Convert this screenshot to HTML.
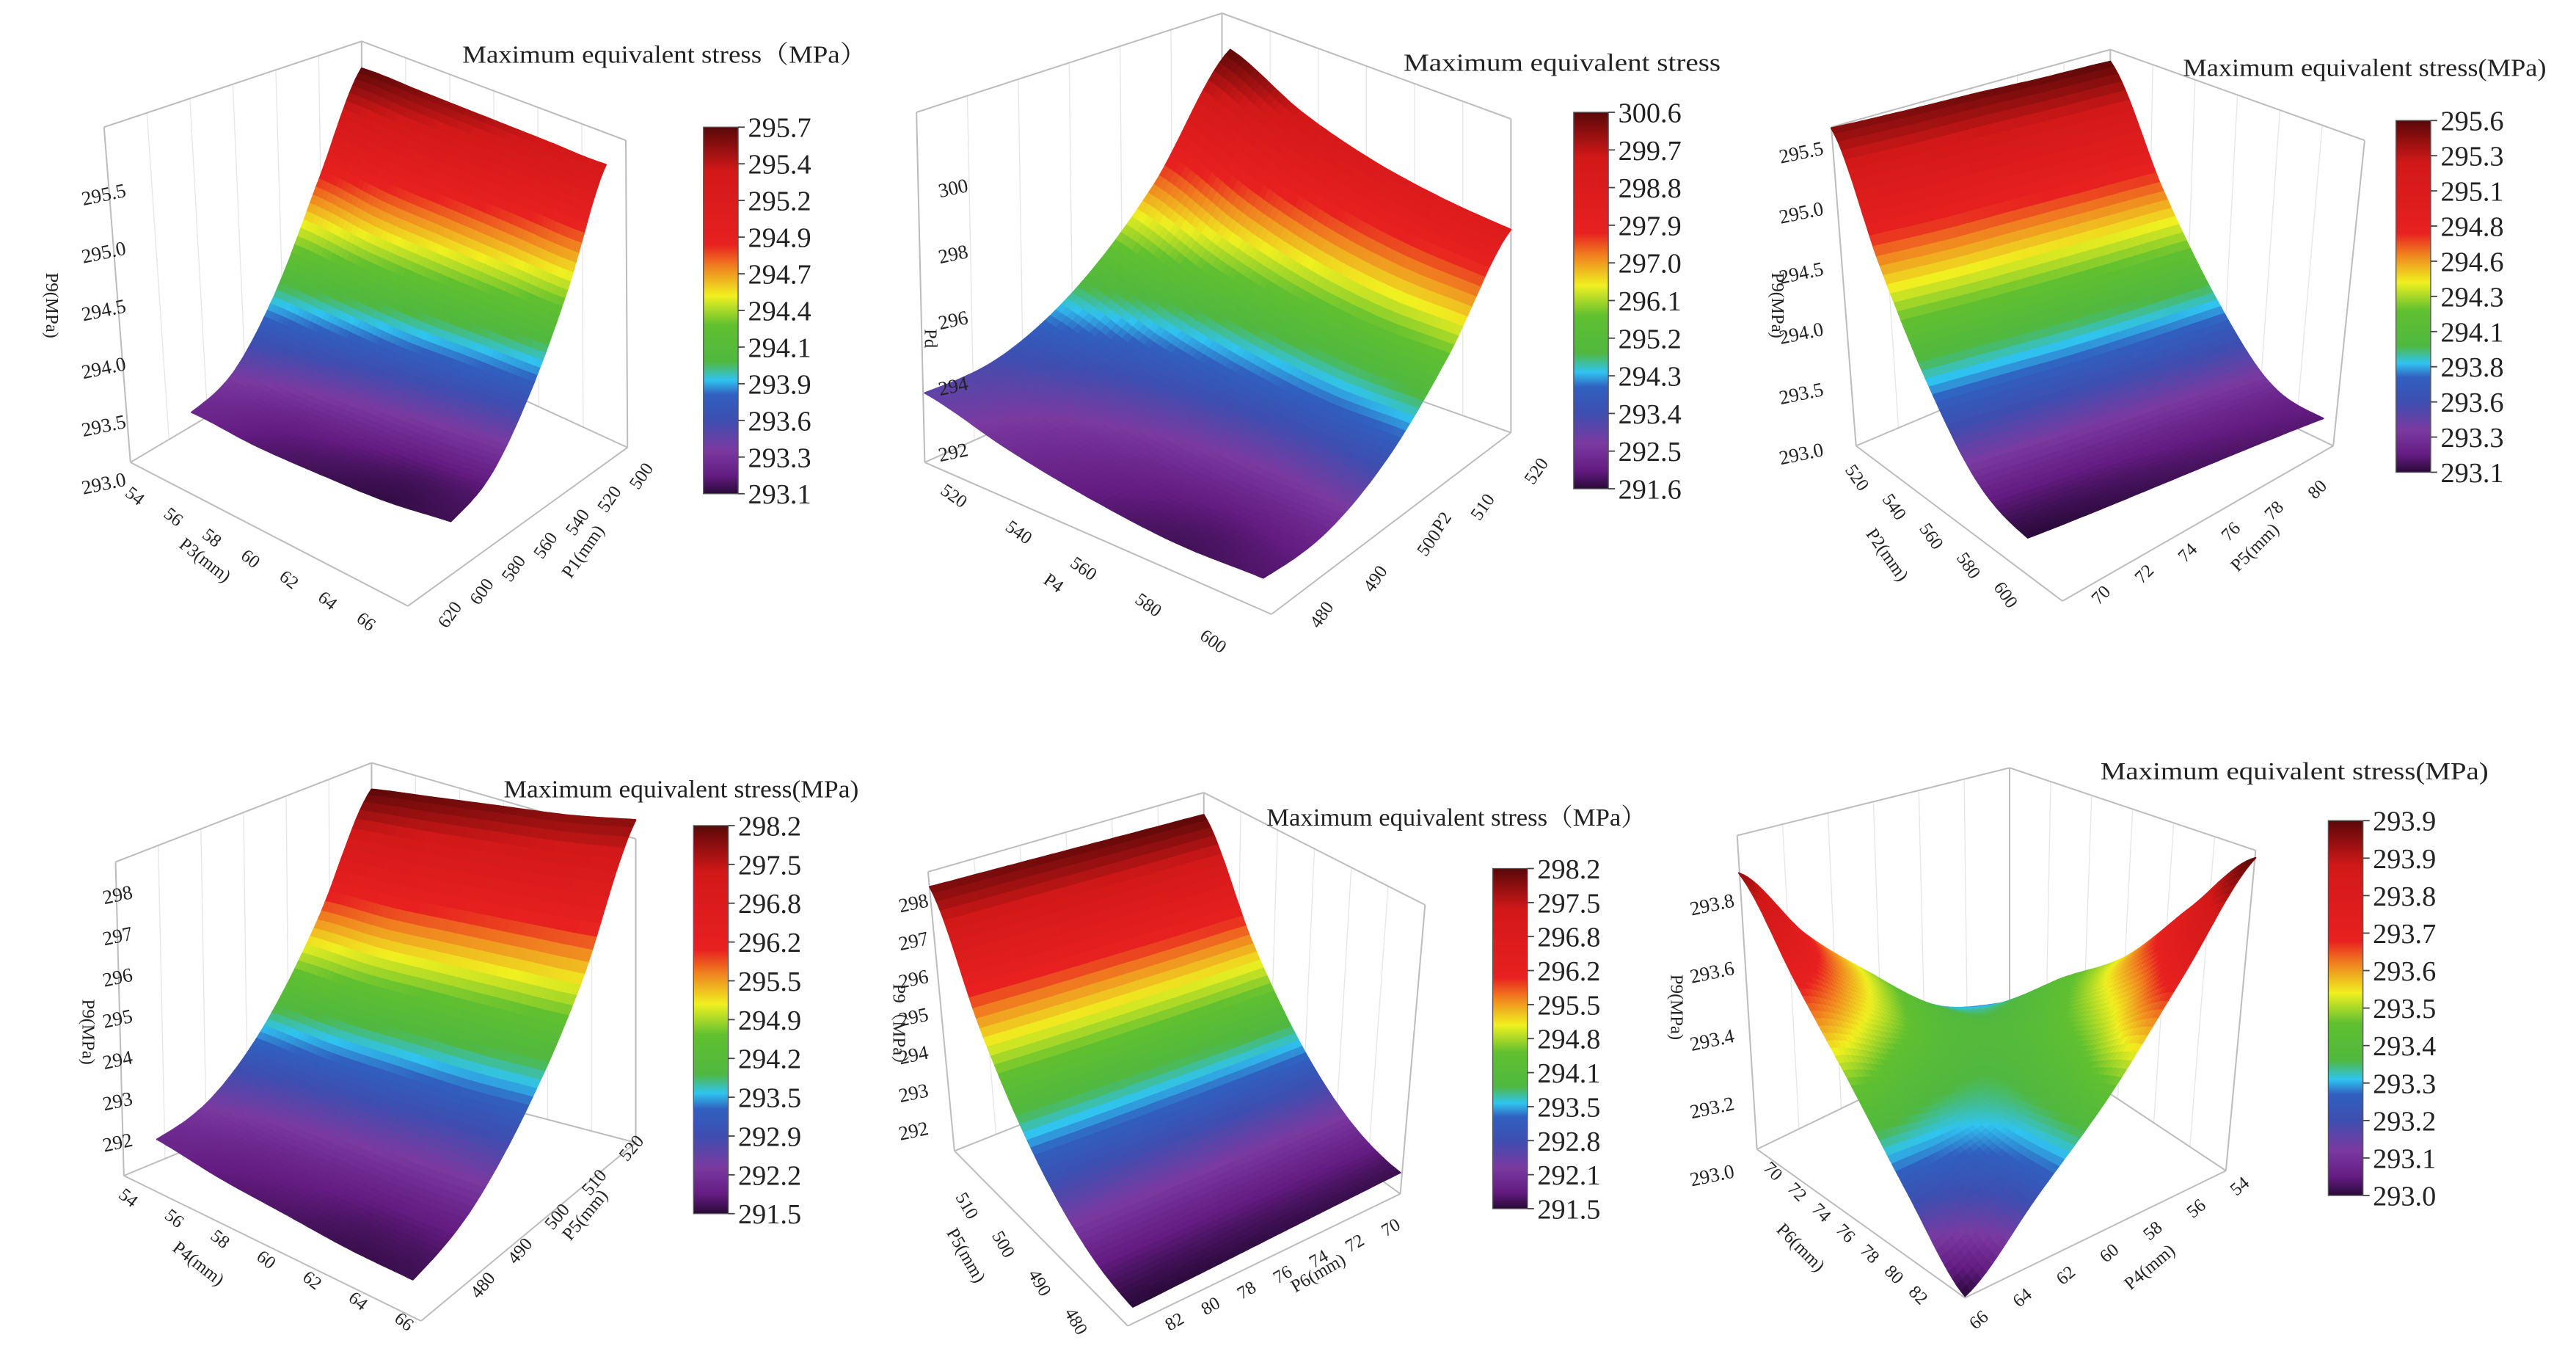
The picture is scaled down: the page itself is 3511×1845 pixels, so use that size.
<!DOCTYPE html>
<html><head><meta charset="utf-8"><style>
html,body{margin:0;padding:0;background:#fff;}
svg{display:block;}
text{font-family:"Liberation Serif","Noto Serif CJK SC",serif;fill:#222;}
</style></head><body>
<svg id="fig" width="3511" height="1845" viewBox="0 0 1560 820" preserveAspectRatio="none" xmlns="http://www.w3.org/2000/svg">
<defs id="defs"></defs>
</svg>
<script>
// ---------- DATA ----------
const p1ZGrid = [
  [293.30, 293.20, 293.15, 293.12, 293.15],
  [293.45, 293.35, 293.30, 293.25, 293.25],
  [294.00, 293.90, 293.80, 293.75, 293.70],
  [294.85, 294.70, 294.60, 294.50, 294.40],
  [295.70, 295.60, 295.50, 295.40, 295.30]
];
const p2ZGrid = [
  [293.0, 292.4, 292.0, 291.8, 291.9],
  [293.4, 292.8, 292.4, 292.2, 292.3],
  [294.8, 294.1, 293.7, 293.5, 293.6],
  [297.2, 296.4, 295.9, 295.7, 295.8],
  [300.6, 299.6, 299.0, 298.7, 298.6]
];
const p3ZGrid = [
  [293.10, 293.12, 293.15, 293.18, 293.20],
  [293.30, 293.30, 293.32, 293.34, 293.35],
  [293.85, 293.85, 293.85, 293.87, 293.90],
  [294.60, 294.60, 294.62, 294.64, 294.66],
  [295.50, 295.52, 295.55, 295.57, 295.60]
];
const p4ZGrid = [
  [292.0, 291.8, 291.7, 291.6, 291.6],
  [292.4, 292.2, 292.1, 292.0, 292.0],
  [293.6, 293.4, 293.3, 293.2, 293.2],
  [295.6, 295.4, 295.3, 295.2, 295.1],
  [298.2, 298.1, 298.0, 297.9, 297.9]
];
const p5ZGrid = [
  [291.50, 291.52, 291.55, 291.58, 291.60],
  [292.10, 292.10, 292.12, 292.15, 292.20],
  [293.40, 293.40, 293.42, 293.45, 293.50],
  [295.40, 295.40, 295.42, 295.45, 295.50],
  [298.00, 298.05, 298.10, 298.15, 298.20]
];
const p6ZGrid = [
  [293.00, 293.20, 293.40, 293.65, 293.90],
  [293.20, 293.25, 293.35, 293.50, 293.70],
  [293.42, 293.35, 293.33, 293.40, 293.50],
  [293.63, 293.50, 293.38, 293.33, 293.38],
  [293.85, 293.62, 293.45, 293.30, 293.25]
];
const p1BarTicks = ["295.7","295.4","295.2","294.9","294.7","294.4","294.1","293.9","293.6","293.3","293.1"];
const p2BarTicks = ["300.6","299.7","298.8","297.9","297.0","296.1","295.2","294.3","293.4","292.5","291.6"];
const p3BarTicks = ["295.6","295.3","295.1","294.8","294.6","294.3","294.1","293.8","293.6","293.3","293.1"];
const p4BarTicks = ["298.2","297.5","296.8","296.2","295.5","294.9","294.2","293.5","292.9","292.2","291.5"];
const p5BarTicks = ["298.2","297.5","296.8","296.2","295.5","294.8","294.1","293.5","292.8","292.1","291.5"];
const p6BarTicks = ["293.9","293.9","293.8","293.7","293.6","293.5","293.4","293.3","293.2","293.1","293.0"];
const p1ZTicks = [293.0, 293.5, 294.0, 294.5, 295.0, 295.5];
const p2ZTicks = [292, 294, 296, 298, 300];
const p3ZTicks = [293.0, 293.5, 294.0, 294.5, 295.0, 295.5];
const p4ZTicks = [292, 293, 294, 295, 296, 297, 298];
const p5ZTicks = [292, 293, 294, 295, 296, 297, 298];
const p6ZTicks = [293.0, 293.2, 293.4, 293.6, 293.8];
const p1UTicks = ["54","56","58","60","62","64","66"];
const p1VTicks = ["500","520","540","560","580","600","620"];
const p2UTicks = ["520","540","560","580","600"];
const p2VTicks = ["480","490","500","510","520"];
const p3UTicks = ["520","540","560","580","600"];
const p3VTicks = ["70","72","74","76","78","80"];
const p4UTicks = ["54","56","58","60","62","64","66"];
const p4VTicks = ["480","490","500","510","520"];
const p5UTicks = ["480","490","500","510"];
const p5VTicks = ["82","80","78","76","74","72","70"];
const p6UTicks = ["70","72","74","76","78","80","82"];
const p6VTicks = ["66","64","62","60","58","56","54"];

// ---------- LAYOUT ----------
const NS = "http://www.w3.org/2000/svg";
const FONT = '"Liberation Serif","Noto Serif CJK SC",serif';
const svg = document.getElementById('fig');
const defs = document.getElementById('defs');
const cmapStops = [
  [0.00,[42,10,58]],[0.05,[100,28,130]],[0.12,[122,58,160]],[0.20,[62,78,176]],
  [0.27,[48,96,192]],[0.31,[48,196,240]],[0.36,[80,184,64]],[0.46,[96,192,48]],
  [0.54,[240,240,32]],[0.62,[240,128,32]],[0.68,[232,32,32]],[0.88,[210,24,24]],[1.00,[90,8,8]]
];
function cmap(t){
  t=Math.max(0,Math.min(1,t));
  for(let i=1;i<cmapStops.length;i++){
    if(t<=cmapStops[i][0]){
      const a=cmapStops[i-1],b=cmapStops[i],f=(t-a[0])/(b[0]-a[0]);
      const c=a[1].map((x,j)=>Math.round(x+(b[1][j]-x)*f));
      return 'rgb('+c.join(',')+')';
    }
  }
  return 'rgb(90,8,8)';
}
function interp1(arr,t){
  const n=arr.length;const x=t*(n-1);let i=Math.floor(x);if(i>=n-1)i=n-2;if(i<0)i=0;
  const f=x-i;const p0=arr[Math.max(i-1,0)],p1=arr[i],p2=arr[i+1],p3=arr[Math.min(i+2,n-1)];
  return 0.5*((2*p1)+(-p0+p2)*f+(2*p0-5*p1+4*p2-p3)*f*f+(-p0+3*p1-3*p2+p3)*f*f*f);
}
function sample(grid,u,v){ return interp1(grid.map(r=>interp1(r,u)),v); }
function el(tag,attrs,parent){const e=document.createElementNS(NS,tag);for(const k in attrs)e.setAttribute(k,attrs[k]);if(tag==='text')e.setAttribute('font-family',FONT);(parent||svg).appendChild(e);return e;}

const panels=[
 {id:1,grid:p1ZGrid,bar:p1BarTicks,zt:p1ZTicks,ut:p1UTicks,vt:p1VTicks,cmin:293.1,cmax:295.7,
  A:[116,268],B:[273,325],C:[219,206],D:[367,240],k:61,zf:293.0,
  frame:{Lt:[63,77],Lb:[79,280],Bt:[219,25],Bb:[219,197],Rt:[379,85],Rb:[380,271],F:[247,367]},
  barX:426,barY0:77,barY1:299,title:"Maximum equivalent stress（MPa）",tx:280,ty:38,tw:245,
  zAx:{v0:293.0,y0:290,k:70,x:76},ztitle:{t:"P9(MPa)",x:28,y:185},
  uAx:{a:[82,300],b:[222,376],title:"P3(mm)",tp:[122,342],rot:38},vAx:{a:[388,288],b:[272,372],title:"P1(mm)",tp:[356,336],rot:-55}},
 {id:2,grid:p2ZGrid,bar:p2BarTicks,zt:p2ZTicks,ut:p2UTicks,vt:p2VTicks,cmin:291.6,cmax:300.6,
  A:[560,278],B:[765,368],C:[745,222],D:[915,291],k:20,zf:291.0,
  frame:{Lt:[555,68],Lb:[560,280],Bt:[740,8],Bb:[740,200],Rt:[915,72],Rb:[915,262],F:[770,372]},
  barX:953,barY0:68,barY1:296,title:"Maximum equivalent stress",tx:850,ty:43,tw:192,
  zAx:{v0:292,y0:272,k:20,x:586},ztitle:{t:"Pd",x:560,y:205},
  uAx:{a:[578,300],b:[735,388],title:"P4",tp:[636,356],rot:35},vAx:{a:[800,372],b:[930,285],title:"P2",tp:[876,318],rot:-55}},
 {id:3,grid:p3ZGrid,bar:p3BarTicks,zt:p3ZTicks,ut:p3UTicks,vt:p3VTicks,cmin:293.1,cmax:295.6,
  A:[1228,333],B:[1407,268],C:[1109,260],D:[1278,227],k:73,zf:293.0,
  frame:{Lt:[1109,77],Lb:[1124,270],Bt:[1278,30],Bb:[1278,205],Rt:[1432,85],Rb:[1413,270],F:[1249,364]},
  barX:1451,barY0:73,barY1:286,title:"Maximum equivalent stress(MPa)",tx:1322,ty:46,tw:220,
  zAx:{v0:293.0,y0:272,k:73,x:1104},ztitle:{t:"P9(MPa)",x:1073,y:185},
  uAx:{a:[1125,289],b:[1215,360],title:"P2(mm)",tp:[1140,338],rot:55},vAx:{a:[1272,360],b:[1403,296],title:"P5(mm)",tp:[1368,334],rot:-45}},
 {id:4,grid:p4ZGrid,bar:p4BarTicks,zt:p4ZTicks,ut:p4UTicks,vt:p4VTicks,cmin:291.5,cmax:298.2,
  A:[95,715],B:[250,790],C:[225,658],D:[385,669],k:25,zf:291.0,
  frame:{Lt:[70,522],Lb:[75,712],Bt:[225,462],Bb:[225,650],Rt:[385,508],Rb:[385,692],F:[255,800]},
  barX:420,barY0:500,barY1:735,title:"Maximum equivalent stress(MPa)",tx:305,ty:483,tw:215,
  zAx:{v0:292,y0:690,k:25,x:80},ztitle:{t:"P9(MPa)",x:50,y:625},
  uAx:{a:[78,725],b:[245,800],title:"P4(mm)",tp:[118,768],rot:38},vAx:{a:[292,778],b:[382,695],title:"P5(mm)",tp:[357,738],rot:-50}},
 {id:5,grid:p5ZGrid,bar:p5BarTicks,zt:p5ZTicks,ut:p5UTicks,vt:p5VTicks,cmin:291.5,cmax:298.2,
  A:[686,803],B:[848,724],C:[563,698],D:[729,659],k:23,zf:291.0,
  frame:{Lt:[562,528],Lb:[578,697],Bt:[729,480],Bb:[729,637],Rt:[863,548],Rb:[848,723],F:[683,803]},
  barX:904,barY0:526,barY1:732,title:"Maximum equivalent stress（MPa）",tx:767,ty:500,tw:230,
  zAx:{v0:292,y0:683,k:23,x:562},ztitle:{t:"P9（MPa）",x:541,y:623},
  uAx:{a:[652,800],b:[586,730],title:"P5(mm)",tp:[582,762],rot:60},vAx:{a:[711,800],b:[842,743],title:"P6(mm)",tp:[800,774],rot:-30}},
 {id:6,grid:p6ZGrid,bar:p6BarTicks,zt:p6ZTicks,ut:p6UTicks,vt:p6VTicks,cmin:293.0,cmax:293.9,
  A:[1190,785],B:[1366,704],C:[1053,703],D:[1210,659],k:205,zf:293.0,
  frame:{Lt:[1052,506],Lb:[1064,696],Bt:[1217,465],Bb:[1217,622],Rt:[1366,515],Rb:[1348,709],F:[1190,786]},
  barX:1410,barY0:497,barY1:724,title:"Maximum equivalent stress(MPa)",tx:1272,ty:472,tw:235,
  zAx:{v0:293.0,y0:709,k:205,x:1050},ztitle:{t:"P9(MPa)",x:1012,y:610},
  uAx:{a:[1074,709],b:[1162,784],title:"P6(mm)",tp:[1088,758],rot:45},vAx:{a:[1198,799],b:[1356,718],title:"P4(mm)",tp:[1304,770],rot:-40}}
];

const lg=el('linearGradient',{id:'cbar',x1:0,y1:1,x2:0,y2:0},defs);
cmapStops.forEach(s=>el('stop',{offset:s[0],'stop-color':'rgb('+s[1].join(',')+')'},lg));

panels.forEach(p=>{
  const g=el('g',{});
  
  
  const f=p.frame;
  const grid=el('g',{stroke:'#e6e6e6','stroke-width':0.6,fill:'none'},g);
  
  
  for(let i=1;i<6;i++){
    const t=i/6;
    el('line',{x1:f.Lt[0]+(f.Bt[0]-f.Lt[0])*t,y1:f.Lt[1]+(f.Bt[1]-f.Lt[1])*t,x2:f.Lb[0]+(f.Bb[0]-f.Lb[0])*t,y2:f.Lb[1]+(f.Bb[1]-f.Lb[1])*t},grid);
    el('line',{x1:f.Bt[0]+(f.Rt[0]-f.Bt[0])*t,y1:f.Bt[1]+(f.Rt[1]-f.Bt[1])*t,x2:f.Bb[0]+(f.Rb[0]-f.Bb[0])*t,y2:f.Bb[1]+(f.Rb[1]-f.Bb[1])*t},grid);
  }
  const fr=el('g',{stroke:'#bdbdbd','stroke-width':0.9,fill:'none'},g);
  
  
  [[f.Lt,f.Lb],[f.Bt,f.Bb],[f.Rt,f.Rb],[f.Lt,f.Bt],[f.Bt,f.Rt],[f.Lb,f.Bb],[f.Bb,f.Rb],[f.Lb,f.F],[f.F,f.Rb]].forEach(s=>{
    el('line',{x1:s[0][0],y1:s[0][1],x2:s[1][0],y2:s[1][1]},fr);
  });
  const sg=el('g',{},g);
  
  
  const N=56;
  function floorPt(u,v){
    const x=(1-u)*(1-v)*p.A[0]+u*(1-v)*p.B[0]+(1-u)*v*p.C[0]+u*v*p.D[0];
    const y=(1-u)*(1-v)*p.A[1]+u*(1-v)*p.B[1]+(1-u)*v*p.C[1]+u*v*p.D[1];
    return [x,y];
  }
  function proj(u,v){const fp=floorPt(u,v);const z=sample(p.grid,u,v);return [fp[0],fp[1]-p.k*(z-p.zf)];}
  const pts=[];
  for(let j=0;j<=N;j++){pts.push([]);for(let i=0;i<=N;i++)pts[j].push(proj(i/N,j/N));}
  const quads=[];
  for(let j=0;j<N;j++)for(let i=0;i<N;i++){
    const uc=(i+0.5)/N,vc=(j+0.5)/N;
    quads.push({i,j,d:floorPt(uc,vc)[1],z:sample(p.grid,uc,vc)});
  }
  quads.sort((a,b)=>a.d-b.d);
  quads.forEach(q=>{
    const c=cmap((q.z-p.cmin)/(p.cmax-p.cmin));
    const a=pts[q.j][q.i],b=pts[q.j][q.i+1],cc=pts[q.j+1][q.i+1],d=pts[q.j+1][q.i];
    const poly=el('polygon',{points:[a,b,cc,d].map(x=>x[0].toFixed(1)+','+x[1].toFixed(1)).join(' '),fill:c,stroke:c,'stroke-width':0.9,'stroke-linejoin':'round'},sg);
    
    
  });
  p.zt.forEach(val=>{
    const y=p.zAx.y0-(val-p.zAx.v0)*p.zAx.k;
    const t=el('text',{x:p.zAx.x,y:y+4,'font-size':12,'text-anchor':'end',transform:'rotate(-12 '+p.zAx.x+' '+y+')'},g);
    t.textContent=(p.id===2||p.id===4||p.id===5)?String(val):val.toFixed(1);
    
    
  });
  const zt=el('text',{x:p.ztitle.x,y:p.ztitle.y,'font-size':11,'text-anchor':'middle',transform:'rotate(90 '+p.ztitle.x+' '+p.ztitle.y+')'},g);
  zt.textContent=p.ztitle.t;
  
  
  [[p.uAx,p.ut,'u'],[p.vAx,p.vt,'v']].forEach(([ax,labels,nm])=>{
    labels.forEach((lab,i)=>{
      const t0=labels.length>1?i/(labels.length-1):0;
      const x=ax.a[0]+(ax.b[0]-ax.a[0])*t0,y=ax.a[1]+(ax.b[1]-ax.a[1])*t0;
      const t=el('text',{x:x,y:y+4,'font-size':11,'text-anchor':'middle',transform:'rotate('+ax.rot+' '+x+' '+y+')'},g);
      t.textContent=lab;
      
      
    });
    const tt=el('text',{x:ax.tp[0],y:ax.tp[1],'font-size':11,'text-anchor':'middle',transform:'rotate('+ax.rot+' '+ax.tp[0]+' '+ax.tp[1]+')'},g);
    tt.textContent=ax.title;
    
    
  });
  const ti=el('text',{x:p.tx,y:p.ty,'font-size':15,textLength:p.tw,lengthAdjust:'spacingAndGlyphs'},g);
  ti.textContent=p.title;
  
  
  const cb=el('rect',{x:p.barX,y:p.barY0,width:21,height:p.barY1-p.barY0,fill:'url(#cbar)',stroke:'#555','stroke-width':0.6},g);
  
  
  p.bar.forEach((lab,i)=>{
    const y=p.barY0+(p.barY1-p.barY0)*i/(p.bar.length-1);
    const tk=el('line',{x1:p.barX+21,y1:y,x2:p.barX+25,y2:y,stroke:'#444','stroke-width':0.8},g);
    
    
    const t=el('text',{x:p.barX+27,y:y+6,'font-size':17},g);
    t.textContent=lab;
    
    
  });
});
</script>
</body></html>
